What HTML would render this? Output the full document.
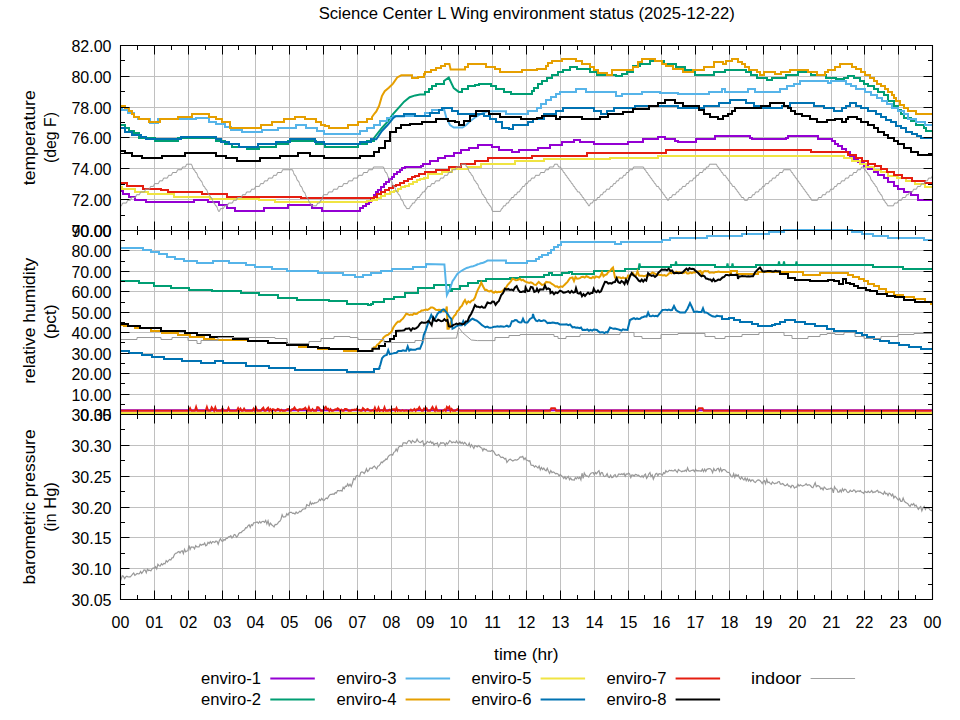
<!DOCTYPE html><html><head><meta charset="utf-8"><style>html,body{margin:0;padding:0;background:#fff;}svg{display:block;font-family:"Liberation Sans", sans-serif;}</style></head><body>
<svg width="960" height="720" viewBox="0 0 960 720">
<rect width="960" height="720" fill="#fff"/>
<path d="M120.5 76.50H932.5M120.5 107.50H932.5M120.5 137.50H932.5M120.5 168.50H932.5M120.5 199.50H932.5M120.5 250.50H932.5M120.5 271.50H932.5M120.5 291.50H932.5M120.5 312.50H932.5M120.5 332.50H932.5M120.5 353.50H932.5M120.5 373.50H932.5M120.5 394.50H932.5M120.5 445.50H932.5M120.5 476.50H932.5M120.5 507.50H932.5M120.5 537.50H932.5M120.5 568.50H932.5M154.50 45.5V599.5M188.50 45.5V599.5M222.50 45.5V599.5M255.50 45.5V599.5M289.50 45.5V599.5M323.50 45.5V599.5M357.50 45.5V599.5M391.50 45.5V599.5M425.50 45.5V599.5M458.50 45.5V599.5M492.50 45.5V599.5M526.50 45.5V599.5M560.50 45.5V599.5M594.50 45.5V599.5M628.50 45.5V599.5M661.50 45.5V599.5M695.50 45.5V599.5M729.50 45.5V599.5M763.50 45.5V599.5M797.50 45.5V599.5M831.50 45.5V599.5M864.50 45.5V599.5M898.50 45.5V599.5" stroke="#c0c0c0" stroke-width="1" fill="none"/>
<defs><clipPath id="cT"><rect x="120.5" y="44" width="812" height="188"/></clipPath><clipPath id="cH"><rect x="120.5" y="229" width="812" height="187"/></clipPath><clipPath id="cP"><rect x="120.5" y="413" width="812" height="188"/></clipPath></defs>
<g clip-path="url(#cT)" fill="none" stroke-width="2" stroke-linejoin="miter">
<path d="M120.00 191.00H123.00V194.00H129.00V197.00H135.00V200.00H146.00V202.00H194.00V200.00H208.00V202.00H219.00V205.00H220.00V205.00H227.00V208.00H235.00V211.00H264.00V208.00H288.00V205.00H312.00V208.00H322.00V211.00H360.00V208.00H363.00V206.00H366.00V204.00H369.00V202.00H371.00V199.00H374.00V195.00H376.00V192.00H378.00V190.00H381.00V187.00H384.00V184.00H386.00V182.00H389.00V179.00H392.00V177.00H394.00V174.00H397.00V172.00H400.00V170.00H402.00V168.00H405.00V167.00H421.00V166.00H423.00V164.00H430.00V161.00H438.00V158.00H445.00V156.00H454.00V153.00H461.00V150.00H469.00V148.00H478.00V145.00H492.00V147.00H499.00V150.00H512.00V152.00H519.00V150.00H538.00V148.00H550.00V145.00H562.00V142.00H574.00V140.00H580.00V142.00H594.00V144.00H628.00V142.00H643.00V139.00H658.00V137.00H665.00V139.00H675.00V141.00H678.00V142.00H696.00V139.00H715.00V136.00H729.00V136.00H750.00V138.00H752.00V139.00H786.00V138.00H788.00V136.00H818.00V139.00H832.00V141.00H835.00V144.00H838.00V146.00H842.00V149.00H846.00V152.00H850.00V156.00H854.00V159.00H858.00V162.00H864.00V166.00H868.00V169.00H874.00V172.00H878.00V175.00H884.00V178.00H888.00V182.00H894.00V186.00H898.00V189.00H904.00V192.00H911.00V195.00H918.00V200.00H932.50" stroke="#9400D3"/>
<path d="M120.00 125.00H125.00V128.00H129.00V131.00H134.00V133.00H139.00V138.00H155.00V141.00H178.00V138.00H216.00V141.00H225.00V144.00H232.00V147.00H247.00V149.00H259.00V147.00H276.00V144.00H288.00V141.00H316.00V144.00H325.00V147.00H358.00V144.00H367.00V141.00H374.00V138.00L376.30 135.00L381.90 128.00L387.40 121.80L393.00 114.20L398.60 107.90L404.10 101.70L409.70 97.20L415.20 95.40L420.00 94.50H425.00V92.00H429.00V89.00H432.00V86.00H436.00V84.00H444.00V81.00L448.75 77.50L453.75 88.10L458.75 91.90H462.00V89.00H468.00V86.00H475.00V85.00H479.00V84.00H491.00V86.00H496.00V89.00H504.00V92.00H511.00V94.00H532.00V91.00H534.00V88.00H538.00V84.00H542.00V81.00H547.00V78.00H552.00V75.00H558.00V72.00H563.00V70.00H570.00V67.00H577.00V69.00H590.00V72.00H597.00V75.00H616.00V76.00H622.00V74.00H627.00V71.00H628.00V72.00H633.00V66.00H640.00V64.00H650.00V61.00H664.00V64.00H676.00V67.00H685.00V70.00H695.00V75.00H714.00V72.00H725.00V70.00H746.00V72.00H751.00V75.00H757.00V78.00H767.00V80.00H772.00V78.00H786.00V75.00H798.00V72.00H811.00V75.00H826.00V78.00H836.00V79.00H844.00V78.00H848.00V76.00H854.00V78.00H860.00V81.00H864.00V84.00H868.00V86.00H874.00V89.00H878.00V92.00H884.00V95.00H888.00V101.00H894.00V106.00H898.00V110.00H901.00V114.00H904.00V118.00H911.00V121.00H916.00V125.00H924.00V128.00H926.00V131.00H932.50" stroke="#009E73"/>
<path d="M120.00 108.00H122.00V110.00H128.00V113.00H134.00V117.00H138.00V119.00H150.00V123.00H158.00V119.00H178.00V119.00H196.00V118.00H209.00V122.00H216.00V124.00H225.00V127.00H231.00V130.00H242.00V132.00H262.00V130.00H278.00V128.00H296.00V125.00H306.00V128.00H317.00V131.00H324.00V134.00H360.00V131.00H367.00V128.00H374.00V125.00H380.00V121.00H387.00V118.00H393.00V116.00H420.00V116.00H425.00V113.00H432.00V110.00H444.00V109.00L446.25 117.50L450.00 125.00L453.75 127.50L462.50 127.50L466.25 125.00L470.00 121.25L475.00 117.50L480.00 114.40L487.50 111.25H506.00V114.00H528.00V111.00H537.00V108.00H541.00V104.00H546.00V100.00H551.00V97.00H556.00V94.00H560.00V92.00H576.00V89.00H586.00V92.00H616.00V96.00H622.00V94.00H642.00V92.00H660.00V93.00H678.00V94.00H709.00V92.00H722.00V89.00H725.00V92.00H748.00V89.00H755.00V92.00H780.00V89.00H787.00V86.00H794.00V84.00H800.00V81.00H828.00V83.00H831.00V81.00H846.00V84.00H851.00V86.00H856.00V89.00H865.00V92.00H871.00V95.00H877.00V98.00H882.00V101.00H887.00V104.00H892.00V108.00H898.00V111.00H904.00V114.00H908.00V119.00H916.00V122.00H925.00V125.00H932.50" stroke="#56B4E9"/>
<path d="M120.00 106.00H125.00V108.00H129.00V111.00H132.00V114.00H134.00V117.00H139.00V119.00H149.00V122.00H160.00V119.00H178.00V117.00H192.00V114.00H209.00V117.00H216.00V119.00H222.00V122.00H230.00V128.00H261.00V125.00H272.00V122.00H284.00V119.00H295.00V117.00H305.00V119.00H316.00V122.00H321.00V125.00H325.00V126.00H329.00V128.00H348.00V125.00H358.00V122.00H367.00V119.00H372.00V117.00L374.50 113.50L376.30 111.40L379.10 105.80L381.90 96.10L384.70 91.25L388.80 87.80L393.00 83.60L397.20 77.40L401.30 75.30H412.00V78.00H418.00V77.00H424.00V74.00H425.00V72.00H431.00V70.00H436.00V68.00H441.00V66.00H445.00V64.00L449.40 64.00L450.60 69.40H465.00V67.00H468.00V64.00H486.00V67.00H495.00V69.00H500.00V72.00H522.00V70.00H537.00V69.00H546.00V66.00H548.00V63.00H552.00V61.00H562.00V59.00H576.00V61.00H582.00V64.00H590.00V67.00H594.00V70.00H598.00V73.00H607.00V75.00H612.00V70.00H633.00V67.00H638.00V62.00H642.00V59.00H655.00V61.00H662.00V64.00H666.00V66.00H673.00V69.00H683.00V72.00H693.00V70.00H704.00V67.00H714.00V62.00H723.00V64.00H726.00V61.00H732.00V59.00H738.00V62.00H742.00V64.00H745.00V67.00H749.00V70.00H757.00V72.00H760.00V75.00H764.00V72.00H775.00V74.00H781.00V72.00H790.00V70.00H808.00V72.00H817.00V75.00H825.00V72.00H828.00V70.00H835.00V67.00H840.00V64.00H852.00V67.00H856.00V69.00H861.00V72.00H865.00V75.00H870.00V78.00H874.00V81.00H877.00V84.00H881.00V86.00H885.00V89.00H888.00V92.00H892.00V95.00H894.00V98.00H896.00V101.00H900.00V105.00H904.00V108.00H908.00V111.00H916.00V114.00H932.50" stroke="#E69F00"/>
<path d="M120.00 187.00H122.00V189.00H135.00V192.00H148.00V194.00H174.00V197.00H210.00V199.00H259.00V200.00H275.00V202.00H318.00V202.00H367.00V201.00H372.00V200.00H377.00V198.00H381.00V196.00H385.00V194.00H390.00V192.00H394.00V191.00H398.00V189.00H401.00V187.00H405.00V186.00H409.00V184.00H413.00V182.00H417.00V180.00H420.00V179.00H424.00V178.00H428.00V174.00H442.00V172.00H452.00V169.00H468.00V167.00H481.00V164.00H515.00V161.00H544.00V159.00H610.00V158.00H658.00V156.00H844.00V158.00H852.00V161.00H860.00V164.00H866.00V167.00H874.00V170.00H881.00V172.00H888.00V176.00H897.00V178.00H906.00V181.00H915.00V184.00H925.00V187.00H932.50" stroke="#F0E442"/>
<path d="M120.00 128.00H125.00V132.00H132.00V135.00H141.00V137.00H146.00V139.00H181.00V137.00H216.00V139.00H221.00V142.00H229.00V144.00H239.00V147.00H258.00V144.00H276.00V142.00H290.00V139.00H315.00V142.00H324.00V144.00H360.00V142.00H371.00V139.00L376.30 139.20L381.90 131.00L387.40 125.30L393.00 118.30L395.80 116.25H404.00V114.00H415.00V116.00H430.00V113.00H439.00V110.00H442.00V108.00H452.00V111.00H458.00V114.00H484.00V116.00H490.00V119.00H496.00V122.00H502.00V128.00H509.00V129.00H513.00V125.00H522.00V125.00H528.00V122.00H533.00V119.00H544.00V114.00H556.00V111.00H563.00V108.00H594.00V111.00H601.00V114.00H607.00V111.00H614.00V108.00H635.00V106.00H658.00V106.00H678.00V108.00H704.00V106.00H719.00V103.00H730.00V100.00H746.00V103.00H754.00V106.00H762.00V108.00H782.00V106.00H790.00V103.00H814.00V106.00H824.00V108.00H834.00V111.00H842.00V108.00H846.00V106.00H850.00V103.00H856.00V106.00H861.00V108.00H868.00V111.00H876.00V114.00H881.00V117.00H886.00V120.00H891.00V122.00H896.00V126.00H901.00V128.00H906.00V132.00H912.00V134.00H917.00V136.00H921.00V138.00H932.50" stroke="#0072B2"/>
<path d="M120.00 183.00H127.00V186.00H143.00V189.00H161.00V190.00H168.00V192.00H202.00V194.00H227.00V197.00H233.00V197.00H301.00V198.00H374.00V197.00H377.00V194.00H381.00V192.00H385.00V190.00H389.00V188.00H393.00V186.00H396.00V185.00H400.00V183.00H404.00V181.00H408.00V179.00H412.00V177.00H415.00V176.00H419.00V174.00H425.00V172.00H436.00V170.00H449.00V167.00H461.00V164.00H475.00V161.00H488.00V158.00H532.00V156.00H587.00V153.00H628.00V153.00H666.00V150.00H811.00V152.00H848.00V155.00H856.00V158.00H862.00V161.00H868.00V164.00H875.00V166.00H881.00V169.00H887.00V172.00H894.00V175.00H902.00V178.00H912.00V181.00H925.00V183.00H932.50" stroke="#E51E10"/>
<path d="M120.00 151.00H125.00V153.00H132.00V156.00H142.00V158.00H162.00V156.00H185.00V153.00H216.00V156.00H226.00V158.00H237.00V161.00H260.00V158.00H280.00V156.00H298.00V153.00H310.00V156.00H324.00V158.00H360.00V156.00H374.00V152.00H379.00V148.00H385.00V141.00H390.00V132.00H396.00V128.00H401.00V125.00H410.00V124.00H422.00V122.00H436.00V119.00H448.00V121.00H455.00V122.00H459.00V125.00H464.00V121.00H470.00V116.00H476.00V111.00H489.00V114.00H500.00V117.00H521.00V119.00H537.00V118.00H542.00V116.00H556.00V119.00H560.00V117.00H582.00V119.00H600.00V117.00H608.00V114.00H623.00V112.00H633.00V109.00H649.00V106.00H658.00V103.00H665.00V100.00H675.00V103.00H683.00V106.00H699.00V110.00H704.00V114.00H710.00V117.00H718.00V119.00H723.00V116.00H728.00V114.00H732.00V111.00H735.00V108.00H761.00V106.00H770.00V103.00H784.00V106.00H788.00V108.00H791.00V111.00H795.00V114.00H802.00V116.00H810.00V119.00H817.00V122.00H827.00V120.00H835.00V119.00H842.00V122.00H846.00V119.00H848.00V117.00H857.00V119.00H861.00V122.00H868.00V125.00H874.00V128.00H878.00V132.00H884.00V135.00H888.00V138.00H894.00V141.00H898.00V144.00H904.00V148.00H911.00V152.00H918.00V155.00H932.50" stroke="#000000"/>
<path d="M120.50 205.84L121.50 205.84L122.50 203.06L126.50 203.06L127.50 200.28L130.50 200.28L131.50 197.51L135.50 197.51L136.50 194.74L139.50 194.74L140.50 191.96L144.50 191.96L145.50 189.19L149.50 189.19L150.50 186.41L153.50 186.41L154.50 183.64L158.50 183.64L159.50 180.86L162.50 180.86L163.50 178.09L167.50 178.09L168.50 175.31L171.50 175.31L172.50 172.53L176.50 172.53L177.50 169.76L181.50 169.76L182.50 166.99L185.50 166.99L186.50 164.21L191.50 164.21L192.50 166.99L193.50 169.76L194.50 169.76L195.50 172.53L196.50 172.53L197.50 175.31L198.50 178.09L199.50 178.09L200.50 180.86L201.50 180.86L202.50 183.64L203.50 186.41L204.50 186.41L205.50 189.19L206.50 189.19L207.50 191.96L208.50 194.74L209.50 194.74L210.50 197.51L211.50 197.51L212.50 200.28L213.50 203.06L214.50 203.06L215.50 205.84L216.50 205.84L217.50 208.61L218.50 211.38L219.50 211.38L220.50 208.61L223.50 208.61L224.50 205.84L227.50 205.84L228.50 203.06L232.50 203.06L233.50 200.28L236.50 200.28L237.50 197.51L241.50 197.51L242.50 194.74L245.50 194.74L246.50 191.96L250.50 191.96L251.50 189.19L254.50 189.19L255.50 186.41L259.50 186.41L260.50 183.64L263.50 183.64L264.50 180.86L267.50 180.86L268.50 178.09L272.50 178.09L273.50 175.31L276.50 175.31L277.50 172.53L281.50 172.53L282.50 169.76L292.50 169.76L293.50 172.53L294.50 175.31L295.50 175.31L296.50 178.09L297.50 180.86L298.50 180.86L299.50 183.64L300.50 186.41L301.50 186.41L302.50 189.19L303.50 191.96L304.50 191.96L305.50 194.74L306.50 197.51L307.50 197.51L308.50 200.28L309.50 203.06L310.50 203.06L311.50 205.84L316.50 205.84L317.50 203.06L319.50 203.06L320.50 200.28L321.50 200.28L322.50 197.51L323.50 194.74L327.50 194.74L328.50 191.96L332.50 191.96L333.50 189.19L337.50 189.19L338.50 186.41L342.50 186.41L343.50 183.64L347.50 183.64L348.50 180.86L352.50 180.86L353.50 178.09L357.50 178.09L358.50 175.31L362.50 175.31L363.50 172.53L367.50 172.53L368.50 169.76L372.50 169.76L373.50 166.99L383.50 166.99L384.50 169.76L385.50 172.53L386.50 172.53L387.50 175.31L388.50 178.09L389.50 178.09L390.50 180.86L391.50 180.86L392.50 183.64L393.50 186.41L394.50 186.41L395.50 189.19L396.50 191.96L397.50 191.96L398.50 194.74L399.50 194.74L400.50 197.51L401.50 200.28L402.50 200.28L403.50 203.06L404.50 205.84L405.50 205.84L406.50 208.61L409.50 208.61L410.50 205.84L411.50 205.84L412.50 203.06L414.50 203.06L415.50 200.28L416.50 200.28L417.50 197.51L419.50 197.51L420.50 194.74L421.50 194.74L422.50 191.96L424.50 191.96L425.50 189.19L426.50 189.19L427.50 186.41L430.50 186.41L431.50 183.64L434.50 183.64L435.50 180.86L439.50 180.86L440.50 178.09L443.50 178.09L444.50 175.31L447.50 175.31L448.50 172.53L451.50 172.53L452.50 169.76L455.50 169.76L456.50 166.99L460.50 166.99L461.50 164.21L465.50 164.21L466.50 166.99L467.50 166.99L468.50 169.76L469.50 172.53L470.50 172.53L471.50 175.31L472.50 175.31L473.50 178.09L474.50 180.86L475.50 180.86L476.50 183.64L477.50 183.64L478.50 186.41L479.50 189.19L480.50 189.19L481.50 191.96L482.50 194.74L483.50 194.74L484.50 197.51L485.50 197.51L486.50 200.28L487.50 203.06L488.50 203.06L489.50 205.84L490.50 205.84L491.50 208.61L492.50 211.38L500.50 211.38L501.50 208.61L502.50 208.61L503.50 205.84L505.50 205.84L506.50 203.06L508.50 203.06L509.50 200.28L510.50 200.28L511.50 197.51L513.50 197.51L514.50 194.74L516.50 194.74L517.50 191.96L519.50 191.96L520.50 189.19L521.50 189.19L522.50 186.41L524.50 186.41L525.50 183.64L527.50 183.64L528.50 180.86L530.50 180.86L531.50 178.09L534.50 178.09L535.50 175.31L539.50 175.31L540.50 172.53L544.50 172.53L545.50 169.76L548.50 169.76L549.50 166.99L553.50 166.99L554.50 164.21L557.50 164.21L558.50 166.99L560.50 166.99L561.50 169.76L562.50 169.76L563.50 172.53L564.50 172.53L565.50 175.31L566.50 175.31L567.50 178.09L568.50 178.09L569.50 180.86L570.50 180.86L571.50 183.64L572.50 183.64L573.50 186.41L574.50 186.41L575.50 189.19L576.50 189.19L577.50 191.96L579.50 191.96L580.50 194.74L581.50 194.74L582.50 197.51L583.50 197.51L584.50 200.28L585.50 200.28L586.50 203.06L587.50 203.06L588.50 205.84L589.50 205.84L590.50 203.06L592.50 203.06L593.50 200.28L596.50 200.28L597.50 197.51L599.50 197.51L600.50 194.74L602.50 194.74L603.50 191.96L605.50 191.96L606.50 189.19L609.50 189.19L610.50 186.41L612.50 186.41L613.50 183.64L615.50 183.64L616.50 180.86L618.50 180.86L619.50 178.09L622.50 178.09L623.50 175.31L625.50 175.31L626.50 172.53L628.50 172.53L629.50 169.76L632.50 169.76L633.50 166.99L643.50 166.99L644.50 169.76L645.50 169.76L646.50 172.53L647.50 172.53L648.50 175.31L649.50 175.31L650.50 178.09L651.50 178.09L652.50 180.86L653.50 180.86L654.50 183.64L655.50 183.64L656.50 186.41L658.50 186.41L659.50 189.19L660.50 189.19L661.50 191.96L662.50 191.96L663.50 194.74L664.50 194.74L665.50 197.51L666.50 197.51L667.50 200.28L668.50 200.28L669.50 197.51L671.50 197.51L672.50 194.74L675.50 194.74L676.50 191.96L678.50 191.96L679.50 189.19L681.50 189.19L682.50 186.41L685.50 186.41L686.50 183.64L688.50 183.64L689.50 180.86L692.50 180.86L693.50 178.09L695.50 178.09L696.50 175.31L698.50 175.31L699.50 172.53L702.50 172.53L703.50 169.76L705.50 169.76L706.50 166.99L708.50 166.99L709.50 164.21L716.50 164.21L717.50 166.99L718.50 166.99L719.50 169.76L720.50 169.76L721.50 172.53L722.50 172.53L723.50 175.31L725.50 175.31L726.50 178.09L727.50 178.09L728.50 180.86L729.50 180.86L730.50 183.64L731.50 183.64L732.50 186.41L734.50 186.41L735.50 189.19L736.50 189.19L737.50 191.96L738.50 191.96L739.50 194.74L740.50 194.74L741.50 197.51L743.50 197.51L744.50 200.28L747.50 200.28L748.50 197.51L751.50 197.51L752.50 194.74L754.50 194.74L755.50 191.96L758.50 191.96L759.50 189.19L761.50 189.19L762.50 186.41L764.50 186.41L765.50 183.64L768.50 183.64L769.50 180.86L771.50 180.86L772.50 178.09L775.50 178.09L776.50 175.31L778.50 175.31L779.50 172.53L782.50 172.53L783.50 169.76L790.50 169.76L791.50 172.53L792.50 172.53L793.50 175.31L794.50 175.31L795.50 178.09L796.50 178.09L797.50 180.86L798.50 180.86L799.50 183.64L800.50 183.64L801.50 186.41L802.50 186.41L803.50 189.19L804.50 189.19L805.50 191.96L806.50 191.96L807.50 194.74L808.50 194.74L809.50 197.51L810.50 197.51L811.50 200.28L817.50 200.28L818.50 197.51L821.50 197.51L822.50 194.74L825.50 194.74L826.50 191.96L829.50 191.96L830.50 189.19L833.50 189.19L834.50 186.41L836.50 186.41L837.50 183.64L840.50 183.64L841.50 180.86L844.50 180.86L845.50 178.09L848.50 178.09L849.50 175.31L852.50 175.31L853.50 172.53L856.50 172.53L857.50 169.76L860.50 169.76L861.50 166.99L863.50 166.99L864.50 169.76L865.50 169.76L866.50 172.53L867.50 172.53L868.50 175.31L869.50 175.31L870.50 178.09L871.50 180.86L872.50 180.86L873.50 183.64L874.50 183.64L875.50 186.41L876.50 186.41L877.50 189.19L878.50 191.96L879.50 191.96L880.50 194.74L881.50 194.74L882.50 197.51L883.50 200.28L884.50 200.28L885.50 203.06L886.50 203.06L887.50 205.84L893.50 205.84L894.50 203.06L897.50 203.06L898.50 200.28L901.50 200.28L902.50 197.51L905.50 197.51L906.50 194.74L908.50 194.74L909.50 191.96L912.50 191.96L913.50 189.19L916.50 189.19L917.50 186.41L920.50 186.41L921.50 183.64L924.50 183.64L925.50 180.86L927.50 180.86L928.50 178.09L931.50 178.09L932.50 175.31" stroke="#9a9a9a" stroke-width="1"/>
</g>
<g clip-path="url(#cH)" fill="none" stroke-width="2">
<path d="M120.5 410.2H932.5" stroke="#9400D3"/>
<path d="M121.00 281.00H139.00V283.00H154.00V286.00H171.00V288.00H189.00V290.00H212.00V291.00H241.00V293.00H259.00V295.00H278.00V298.00H297.00V300.00H329.00V301.00H347.00V304.00H368.00V305.00H371.00V304.00H373.00V302.00H384.00V299.00H394.00V297.00H405.00V293.00H418.00V288.00H434.00V285.00H450.00V291.00H452.00V289.00H460.00V286.00H468.00V283.00H478.00V281.00H486.00V279.00H510.00V278.00H520.00V277.00H544.00V275.00H549.00V273.00H552.00V275.00H562.00V273.00H569.00V272.00H572.00V274.00H594.00V271.00H620.00V271.00H625.00V269.00H639.00V267.00L638.90 267.00L639.50 263.50L640.10 267.00H671.00V265.00L675.40 265.00L676.00 261.50L676.60 265.00H715.00V267.00L726.90 267.00L727.50 263.50L728.10 267.00L731.90 267.00L732.50 263.50L733.10 267.00H756.00V265.00L778.40 265.00L779.00 261.50L779.60 265.00L783.40 265.00L784.00 261.50L784.60 265.00L795.90 265.00L796.50 261.50L797.10 265.00H873.00V267.00H903.00V269.00H932.50" stroke="#009E73"/>
<path d="M121.00 248.00H143.00V250.00H151.00V252.00H159.00V254.00H167.00V257.00H175.00V259.00H184.00V261.00H197.00V263.00H213.00V261.00H229.00V263.00H246.00V265.00H255.00V267.00H272.00V269.00H287.00V271.00H318.00V273.00H343.00V275.00H355.00V277.00H363.00V275.00H371.00V273.00H381.00V271.00H392.00V269.00H413.00V267.00H426.00V264.00L444.40 264.40L446.90 295.00L448.45 291.77L450.00 288.75L452.50 281.25L454.17 278.84L455.83 276.27L457.50 273.75L459.00 272.48L460.50 271.47L462.00 270.49L463.50 269.70L465.00 268.75L466.67 267.91L468.33 267.59L470.00 266.90L471.56 266.47L473.12 266.24L474.69 265.69L476.25 265.00L477.75 264.29L479.25 263.89L480.75 263.31L482.25 263.08L483.75 262.50L485.62 261.58L487.50 260.60H506.00V263.00H527.00V261.00H536.00V259.00H539.00V257.00H542.00V255.00H548.00V253.00H551.00V250.00H554.00V247.00H558.00V245.00H561.00V242.00H578.00V242.00H615.00V244.00H621.00V242.00H662.00V240.00H670.00V238.00H707.00V236.00H742.00V234.00H769.00V232.00H784.00V230.00H852.00V232.00H862.00V234.00H873.00V236.00H888.00V238.00H924.00V240.00H932.50" stroke="#56B4E9"/>
<path d="M121.00 325.00H124.00V326.00H135.00V328.00H151.00V331.00H162.00V333.00H178.00V335.00H190.00V337.00H204.00V339.00H214.00V340.00H248.00V341.00H268.00V343.00H287.00V345.00H299.00V347.00H318.00V349.00H344.00V351.00H372.00V350.00L372.50 349.50L374.06 347.18L375.62 346.99L377.19 344.82L378.75 343.75L380.31 341.78L381.88 340.59L383.44 337.61L385.00 336.25L386.67 335.25L388.33 334.61L390.00 333.10L391.67 331.36L393.33 327.54L395.00 325.00L396.56 323.05L398.12 321.58L399.69 321.78L401.25 320.00L402.92 318.67L404.58 316.22L406.25 313.75L407.81 314.22L409.38 315.05L410.94 314.64L412.50 315.00L414.00 313.50L415.50 314.05L417.00 313.78L418.50 312.29L420.00 311.90L421.50 310.57L423.00 310.48L424.50 309.88L426.00 309.64L427.50 310.00L429.17 308.95L430.83 307.49L432.50 307.50L434.17 308.43L435.83 309.81L437.50 310.00L439.00 309.72L440.50 310.05L442.00 310.50L444.00 311.17L446.00 310.00L446.80 306.50L447.50 328.75L448.75 328.75L450.62 323.10L452.50 318.75L454.06 316.03L455.62 314.55L457.19 311.20L458.75 310.00L460.31 307.24L461.88 305.91L463.44 302.53L465.00 300.00L466.67 303.63L468.33 301.45L470.00 302.50L471.67 300.63L473.33 300.14L475.00 297.50L476.56 292.97L478.12 289.20L479.69 286.32L481.25 282.50L483.12 286.48L485.00 290.00L486.50 289.80L488.00 291.03L489.50 291.34L491.00 290.75L492.50 291.90L494.00 292.86L495.50 291.52L497.00 292.40L498.50 291.86L500.00 291.90L502.50 291.25L504.17 289.20L505.83 287.99L507.50 285.00L509.17 283.30L510.83 281.35L512.50 278.75L514.17 279.45L515.83 280.27L517.50 280.00L520.00 278.75L521.50 280.35L523.00 279.77L524.50 281.12L526.00 281.90L527.62 282.43L529.25 283.02L530.88 282.28L532.50 283.10L534.25 284.66L536.00 285.00L538.75 281.90L540.38 283.44L542.00 285.00L544.12 284.43L546.25 281.90L548.12 282.14L550.00 282.50L551.88 283.96L553.75 285.00L555.42 286.45L557.08 286.37L558.75 287.50L560.62 286.36L562.50 286.90L564.17 285.17L565.83 283.53L567.50 281.90L570.00 278.10L572.50 277.50L574.00 280.99L575.50 276.91L577.00 278.68L578.50 278.48L580.00 278.10L581.56 276.99L583.12 276.84L584.69 277.66L586.25 276.25L588.12 276.98L590.00 278.10L591.50 278.31L593.00 276.87L594.50 278.19L596.00 276.43L597.50 276.90L599.00 277.48L600.50 275.84L602.00 272.35L603.50 276.25L605.00 275.00L606.67 274.49L608.33 271.92L610.00 271.25L611.50 268.96L613.00 267.50L615.00 277.50L616.67 277.67L618.33 277.34L620.00 277.50L621.50 278.32L623.00 277.42L624.50 278.31L626.00 278.34L627.50 277.50L628.00 275.60L629.60 275.66L631.20 274.64L632.80 272.91L634.40 275.55L636.00 275.60L637.50 271.25L639.00 275.60L640.62 275.71L642.25 275.64L643.88 276.17L645.50 275.72L647.12 275.15L648.75 275.60L650.62 274.07L652.50 272.50L655.00 273.75L656.67 274.69L658.33 274.47L660.00 275.00L661.50 275.01L663.00 275.39L664.50 275.07L666.00 275.88L667.50 275.00L670.00 272.50L671.56 273.25L673.12 272.02L674.69 273.39L676.25 271.77L677.81 272.38L679.38 271.98L680.94 272.84L682.50 273.29L684.06 272.93L685.62 271.79L687.19 273.44L688.75 273.41L690.31 272.47L691.88 273.16L693.44 272.36L695.00 272.50L696.00 271.90L697.50 271.58L699.00 271.54L700.50 270.94L702.00 274.44L703.50 271.49L705.00 271.13L706.50 271.36L708.00 271.07L709.50 272.71L711.00 272.41L712.50 272.60L714.00 272.79L715.50 271.97L717.00 271.89L718.50 271.46L720.00 271.90H730.00V274.00H731.00V271.00H737.00V274.00H758.00V272.00H803.00V275.00H820.00V273.00H848.00V275.00H853.00V277.00H859.00V279.00H864.00V281.00H868.00V284.00H874.00V286.00H879.00V289.00H886.00V292.00H894.00V295.00H903.00V297.00H914.00V299.00H925.00V302.00H931.00V304.00H932.50" stroke="#E69F00"/>
<path d="M120.5 412.9H932.5" stroke="#F0E442"/>
<path d="M121.00 351.00H129.00V353.00H142.00V355.00H152.00V357.00H164.00V359.00H182.00V361.00H201.00V363.00H215.00V361.00H223.00V363.00H246.00V366.00H269.00V368.00H295.00V370.00H318.00V370.00H347.00V372.00H374.00V369.00H379.00V369.00L378.75 369.40L380.42 364.57L382.08 358.13L383.75 356.25L385.25 355.41L386.75 354.86L388.25 350.23L389.75 354.13L391.25 353.75L393.00 353.37L394.75 352.94L396.50 352.76L398.25 351.10L400.00 351.00L401.54 351.01L403.08 350.24L404.62 350.72L406.15 350.73L407.69 346.48L409.23 350.63L410.77 349.43L412.31 349.84L413.85 349.66L415.38 349.81L416.92 348.83L418.46 348.54L420.00 348.75L422.50 342.50L423.75 335.00L425.62 330.53L427.50 325.00L429.38 319.50L431.25 315.00L433.75 320.00L435.62 317.55L437.50 313.75L439.06 311.98L440.62 312.11L442.19 309.87L443.75 309.40L445.62 311.41L447.50 313.75L449.38 316.91L451.25 318.75L452.50 328.75L454.38 327.77L456.25 326.25L458.00 325.56L459.75 325.06L461.50 325.26L463.25 321.24L465.00 325.00L466.50 323.36L468.00 322.27L469.50 320.94L471.00 319.65L472.50 318.75L475.00 320.00L476.75 320.68L478.50 322.00L480.25 323.60L482.00 325.18L483.75 326.25L485.42 327.31L487.08 326.60L488.75 327.50L490.50 327.65L492.25 327.37L494.00 326.74L495.75 326.67L497.50 326.25L499.06 326.70L500.62 326.27L502.19 326.53L503.75 326.82L505.31 326.35L506.88 325.57L508.44 326.67L510.00 326.25L511.90 321.25L513.45 321.26L515.00 320.00L516.67 320.25L518.33 321.86L520.00 322.50L521.50 322.33L523.00 318.81L524.50 322.14L526.00 322.44L527.50 322.50L530.00 319.00L532.50 317.50L533.00 314.00L534.00 317.50L536.00 320.60L537.50 321.21L539.00 320.03L540.50 320.94L542.00 321.03L543.50 320.23L545.00 320.60L547.50 323.10L549.17 322.72L550.83 323.04L552.50 322.51L554.17 322.80L555.83 323.29L557.50 323.10L560.00 324.40L561.67 324.54L563.33 324.61L565.00 324.57L566.67 324.38L568.33 325.06L570.00 324.40L572.50 327.50L574.20 327.10L575.90 327.79L577.60 327.45L579.30 328.19L581.00 327.50L582.50 330.00L584.11 329.74L585.72 329.96L587.33 329.41L588.94 330.69L590.56 329.84L592.17 330.60L593.78 329.43L595.39 329.67L597.00 330.00L598.50 331.39L600.00 332.50L601.50 332.19L603.00 332.31L604.50 333.03L606.00 332.02L607.50 332.50L610.00 327.50L611.67 328.17L613.33 328.65L615.00 328.58L616.67 328.93L618.33 329.36L620.00 330.00L621.50 330.62L623.00 329.32L624.50 329.65L626.00 329.85L627.50 330.00L630.00 320.00L632.50 318.75L634.00 318.16L635.50 319.11L637.00 318.44L638.50 318.98L640.00 318.75L641.67 317.43L643.33 316.99L645.00 316.25L646.56 316.63L648.12 312.63L649.69 316.11L651.25 316.33L652.81 315.66L654.38 316.13L655.94 315.74L657.50 316.25L659.17 314.15L660.83 312.15L662.50 310.00L664.08 309.88L665.67 309.66L667.25 310.21L668.83 309.63L670.42 310.24L672.00 310.00L674.00 306.00L676.00 310.00L678.00 311.45L680.00 312.50L681.67 312.50L683.33 312.57L685.00 312.50L687.50 308.75L690.00 303.10L692.00 307.27L694.00 311.90L695.50 311.80L697.00 311.54L698.50 311.98L700.00 311.90L701.50 311.96L703.00 308.22L704.50 312.46L706.00 312.45L707.50 313.10L709.17 314.50L710.83 315.30L712.50 316.25L714.00 316.51L715.50 316.66L717.00 315.68L718.50 316.09L720.00 316.25H722.00V319.00H729.00V318.00H734.00V320.00H740.00V322.00H752.00V324.00H758.00V326.00H772.00V325.00H775.00V324.00H780.00V322.00H785.00V320.00H795.00V322.00H805.00V324.00H815.00V326.00H827.00V329.00H834.00V331.00H856.00V333.00H862.00V335.00H867.00V337.00H874.00V339.00H880.00V341.00H889.00V343.00H899.00V345.00H909.00V347.00H921.00V349.00H932.50" stroke="#0072B2"/>
<path d="M120.50 410.80L121.70 410.80L122.90 410.80L124.10 410.80L125.30 410.80L126.50 410.80L127.70 410.80L128.90 410.80L130.10 410.80L131.30 410.80L132.50 410.80L133.70 410.80L134.90 410.80L136.10 410.80L137.30 410.80L138.50 410.80L139.70 410.80L140.90 410.80L142.10 410.80L143.30 410.80L144.50 410.80L145.70 410.80L146.90 410.80L148.10 410.80L149.30 410.80L150.50 410.80L151.70 410.80L152.90 410.80L154.10 410.80L155.30 410.80L156.50 410.80L157.70 410.80L158.90 410.80L160.10 410.80L161.30 410.80L162.50 410.80L163.70 410.80L164.90 410.80L166.10 410.80L167.30 410.80L168.50 410.80L169.70 410.80L170.90 410.80L172.10 410.80L173.30 410.80L174.50 410.80L175.70 410.80L176.90 410.80L178.10 410.80L179.30 410.80L180.50 410.80L181.70 410.80L182.90 410.80L184.10 410.80L185.30 410.80L186.50 410.80L187.70 410.80L188.90 410.80L190.10 408.24L191.30 410.80L192.50 410.80L193.70 410.80L194.90 410.80L196.10 406.97L197.30 410.80L198.50 410.80L199.70 410.80L200.90 410.80L202.10 410.80L203.30 410.80L204.50 410.80L205.70 410.80L206.90 407.24L208.10 410.80L209.30 410.80L210.50 410.80L211.70 407.36L212.90 408.99L214.10 410.80L215.30 407.51L216.50 410.80L217.70 410.80L218.90 410.80L220.10 410.80L221.30 410.80L222.50 408.55L223.70 410.80L224.90 410.80L226.10 410.80L227.30 410.80L228.50 407.96L229.70 410.80L230.90 410.80L232.10 410.80L233.30 410.80L234.50 410.80L235.70 410.80L236.90 410.80L238.10 408.27L239.30 410.80L240.50 408.81L241.70 410.80L242.90 410.80L244.10 408.73L245.30 410.80L246.50 410.80L247.70 410.80L248.90 410.80L250.10 410.80L251.30 410.80L252.50 410.80L253.70 408.57L254.90 410.80L256.10 408.06L257.30 410.80L258.50 410.80L259.70 410.80L260.90 410.80L262.10 408.97L263.30 407.74L264.50 410.80L265.70 410.80L266.90 408.93L268.10 407.81L269.30 410.80L270.50 409.24L271.70 410.80L272.90 409.24L274.10 409.63L275.30 410.80L276.50 410.13L277.70 408.89L278.90 409.32L280.10 410.80L281.30 409.83L282.50 410.80L283.70 410.80L284.90 410.80L286.10 410.14L287.30 409.10L288.50 408.97L289.70 410.80L290.90 410.80L292.10 409.15L293.30 409.09L294.50 407.54L295.70 409.49L296.90 409.82L298.10 410.80L299.30 409.35L300.50 409.36L301.70 409.74L302.90 409.09L304.10 408.81L305.30 407.79L306.50 409.80L307.70 410.80L308.90 407.43L310.10 410.80L311.30 410.80L312.50 409.22L313.70 410.80L314.90 410.80L316.10 410.80L317.30 407.23L318.50 407.51L319.70 409.14L320.90 410.80L322.10 410.80L323.30 410.80L324.50 408.06L325.70 406.97L326.90 409.26L328.10 408.71L329.30 410.80L330.50 409.12L331.70 410.80L332.90 410.80L334.10 410.06L335.30 409.33L336.50 409.48L337.70 408.23L338.90 409.12L340.10 410.80L341.30 409.67L342.50 410.80L343.70 410.80L344.90 408.97L346.10 408.96L347.30 409.49L348.50 410.80L349.70 410.80L350.90 410.80L352.10 409.88L353.30 409.92L354.50 409.64L355.70 409.95L356.90 408.94L358.10 410.20L359.30 409.93L360.50 410.80L361.70 410.80L362.90 408.14L364.10 409.29L365.30 410.80L366.50 409.63L367.70 408.98L368.90 410.22L370.10 410.80L371.30 410.80L372.50 410.19L373.70 410.80L374.90 407.79L376.10 410.80L377.30 410.80L378.50 407.71L379.70 410.80L380.90 410.24L382.10 410.23L383.30 410.80L384.50 407.47L385.70 410.80L386.90 410.80L388.10 410.80L389.30 409.74L390.50 410.80L391.70 409.22L392.90 409.57L394.10 409.11L395.30 410.80L396.50 407.97L397.70 410.80L398.90 409.89L400.10 410.80L401.30 410.80L402.50 410.22L403.70 410.80L404.90 410.80L406.10 410.27L407.30 410.80L408.50 410.80L409.70 410.80L410.90 409.69L412.10 410.80L413.30 410.07L414.50 409.07L415.70 410.80L416.90 409.14L418.10 409.17L419.30 407.28L420.50 409.44L421.70 410.80L422.90 410.80L424.10 408.43L425.30 408.87L426.50 408.34L427.70 410.80L428.90 410.80L430.10 410.80L431.30 409.04L432.50 407.02L433.70 409.39L434.90 410.80L436.10 407.52L437.30 410.80L438.50 410.80L439.70 410.80L440.90 410.80L442.10 410.80L443.30 410.80L444.50 409.59L445.70 410.80L446.90 406.95L448.10 408.40L449.30 406.87L450.50 410.80L451.70 408.97L452.90 410.80L454.10 410.80L455.30 410.80L456.50 409.72L457.70 409.03L458.90 410.80L460.10 410.80L461.30 410.80L462.50 410.80L463.70 410.80L464.90 410.80L466.10 410.80L467.30 410.80L468.50 410.80L469.70 410.80L470.90 410.80L472.10 410.80L473.30 410.80L474.50 410.80L475.70 410.80L476.90 410.80L478.10 410.80L479.30 410.80L480.50 410.80L481.70 410.80L482.90 410.80L484.10 410.80L485.30 410.80L486.50 410.80L487.70 410.80L488.90 410.80L490.10 410.80L491.30 410.80L492.50 410.80L493.70 410.80L494.90 410.80L496.10 410.80L497.30 410.80L498.50 410.80L499.70 410.80L500.90 410.80L502.10 410.80L503.30 410.80L504.50 410.80L505.70 410.80L506.90 410.80L508.10 410.80L509.30 410.80L510.50 410.80L511.70 410.80L512.90 410.80L514.10 410.80L515.30 410.80L516.50 410.80L517.70 410.80L518.90 410.80L520.10 410.80L521.30 410.80L522.50 410.80L523.70 410.80L524.90 410.80L526.10 410.80L527.30 410.80L528.50 410.80L529.70 410.80L530.90 410.80L532.10 410.80L533.30 410.80L534.50 410.80L535.70 410.80L536.90 410.80L538.10 410.80L539.30 410.80L540.50 410.80L541.70 410.80L542.90 410.80L544.10 410.80L545.30 410.80L546.50 410.80L547.70 410.80L548.90 410.80L550.10 410.80L551.30 408.30L552.50 408.30L553.70 408.30L554.90 408.30L556.10 410.80L557.30 410.80L558.50 410.80L559.70 410.80L560.90 410.80L562.10 410.80L563.30 410.80L564.50 410.80L565.70 410.80L566.90 410.80L568.10 410.80L569.30 410.80L570.50 410.80L571.70 410.80L572.90 410.80L574.10 410.80L575.30 410.80L576.50 410.80L577.70 410.80L578.90 410.80L580.10 410.80L581.30 410.80L582.50 410.80L583.70 410.80L584.90 410.80L586.10 410.80L587.30 410.80L588.50 410.80L589.70 410.80L590.90 410.80L592.10 410.80L593.30 410.80L594.50 410.80L595.70 410.80L596.90 410.80L598.10 410.80L599.30 410.80L600.50 410.80L601.70 410.80L602.90 410.80L604.10 410.80L605.30 410.80L606.50 410.80L607.70 410.80L608.90 410.80L610.10 410.80L611.30 410.80L612.50 410.80L613.70 410.80L614.90 410.80L616.10 410.80L617.30 410.80L618.50 410.80L619.70 410.80L620.90 410.80L622.10 410.80L623.30 410.80L624.50 410.80L625.70 410.80L626.90 410.80L628.10 410.80L629.30 410.80L630.50 410.80L631.70 410.80L632.90 410.80L634.10 410.80L635.30 410.80L636.50 410.80L637.70 410.80L638.90 410.80L640.10 410.80L641.30 410.80L642.50 410.80L643.70 410.80L644.90 410.80L646.10 410.80L647.30 410.80L648.50 410.80L649.70 410.80L650.90 410.80L652.10 410.80L653.30 410.80L654.50 410.80L655.70 410.80L656.90 410.80L658.10 410.80L659.30 410.80L660.50 410.80L661.70 410.80L662.90 410.80L664.10 410.80L665.30 410.80L666.50 410.80L667.70 410.80L668.90 410.80L670.10 410.80L671.30 410.80L672.50 410.80L673.70 410.80L674.90 410.80L676.10 410.80L677.30 410.80L678.50 410.80L679.70 410.80L680.90 410.80L682.10 410.80L683.30 410.80L684.50 410.80L685.70 410.80L686.90 410.80L688.10 410.80L689.30 410.80L690.50 410.80L691.70 410.80L692.90 410.80L694.10 410.80L695.30 410.80L696.50 410.80L697.70 410.80L698.90 408.30L700.10 408.30L701.30 408.30L702.50 408.30L703.70 410.80L704.90 410.80L706.10 410.80L707.30 410.80L708.50 410.80L709.70 410.80L710.90 410.80L712.10 410.80L713.30 410.80L714.50 410.80L715.70 410.80L716.90 410.80L718.10 410.80L719.30 410.80L720.50 410.80L721.70 410.80L722.90 410.80L724.10 410.80L725.30 410.80L726.50 410.80L727.70 410.80L728.90 410.80L730.10 410.80L731.30 410.80L732.50 410.80L733.70 410.80L734.90 410.80L736.10 410.80L737.30 410.80L738.50 410.80L739.70 410.80L740.90 410.80L742.10 410.80L743.30 410.80L744.50 410.80L745.70 410.80L746.90 410.80L748.10 410.80L749.30 410.80L750.50 410.80L751.70 410.80L752.90 410.80L754.10 410.80L755.30 410.80L756.50 410.80L757.70 410.80L758.90 410.80L760.10 410.80L761.30 410.80L762.50 410.80L763.70 410.80L764.90 410.80L766.10 410.80L767.30 410.80L768.50 410.80L769.70 410.80L770.90 410.80L772.10 410.80L773.30 410.80L774.50 410.80L775.70 410.80L776.90 410.80L778.10 410.80L779.30 410.80L780.50 410.80L781.70 410.80L782.90 410.80L784.10 410.80L785.30 410.80L786.50 410.80L787.70 410.80L788.90 410.80L790.10 410.80L791.30 410.80L792.50 410.80L793.70 410.80L794.90 410.80L796.10 410.80L797.30 410.80L798.50 410.80L799.70 410.80L800.90 410.80L802.10 410.80L803.30 410.80L804.50 410.80L805.70 410.80L806.90 410.80L808.10 410.80L809.30 410.80L810.50 410.80L811.70 410.80L812.90 410.80L814.10 410.80L815.30 410.80L816.50 410.80L817.70 410.80L818.90 410.80L820.10 410.80L821.30 410.80L822.50 410.80L823.70 410.80L824.90 410.80L826.10 410.80L827.30 410.80L828.50 410.80L829.70 410.80L830.90 410.80L832.10 410.80L833.30 410.80L834.50 410.80L835.70 410.80L836.90 410.80L838.10 410.80L839.30 410.80L840.50 410.80L841.70 410.80L842.90 410.80L844.10 410.80L845.30 410.80L846.50 410.80L847.70 410.80L848.90 410.80L850.10 410.80L851.30 410.80L852.50 410.80L853.70 410.80L854.90 410.80L856.10 410.80L857.30 410.80L858.50 410.80L859.70 410.80L860.90 410.80L862.10 410.80L863.30 410.80L864.50 410.80L865.70 410.80L866.90 410.80L868.10 410.80L869.30 410.80L870.50 410.80L871.70 410.80L872.90 410.80L874.10 410.80L875.30 410.80L876.50 410.80L877.70 410.80L878.90 410.80L880.10 410.80L881.30 410.80L882.50 410.80L883.70 410.80L884.90 410.80L886.10 410.80L887.30 410.80L888.50 410.80L889.70 410.80L890.90 410.80L892.10 410.80L893.30 410.80L894.50 410.80L895.70 410.80L896.90 410.80L898.10 410.80L899.30 410.80L900.50 410.80L901.70 410.80L902.90 410.80L904.10 410.80L905.30 410.80L906.50 410.80L907.70 410.80L908.90 410.80L910.10 410.80L911.30 410.80L912.50 410.80L913.70 410.80L914.90 410.80L916.10 410.80L917.30 410.80L918.50 410.80L919.70 410.80L920.90 410.80L922.10 410.80L923.30 410.80L924.50 410.80L925.70 410.80L926.90 410.80L928.10 410.80L929.30 410.80L930.50 410.80L931.70 410.80" stroke="#E51E10"/>
<path d="M121.00 324.00H128.00V326.00H140.00V328.00H161.00V331.00H185.00V333.00H197.00V335.00H210.00V337.00H233.00V339.00H248.00V341.00H268.00V343.00H287.00V345.00H308.00V347.00H318.00V348.00H329.00V349.00H358.00V351.00H372.00V351.00L372.50 351.00L372.50 348.75H379.00V346.00H385.00V342.00H390.00V339.00H394.00V336.00H396.00V331.00L402.50 330.60L404.17 330.34L405.83 328.76L407.50 328.75L409.25 328.30L411.00 330.65L412.75 328.23L414.50 329.00L416.25 328.10L418.12 326.67L420.00 323.75L421.67 322.38L423.33 322.76L425.00 322.75L426.67 322.40L428.33 320.93L430.00 322.69L431.67 325.15L433.33 317.65L435.00 320.60L436.56 321.08L438.12 319.71L439.69 320.36L441.25 321.30L442.81 320.92L444.38 319.11L445.94 320.69L447.50 320.00L448.75 326.25L450.31 326.74L451.88 326.08L453.44 324.87L455.00 324.40L456.50 323.70L458.00 324.41L459.50 323.29L461.00 323.59L462.50 324.40L464.17 323.78L465.83 321.50L467.50 321.25L469.38 316.58L471.25 313.75L473.12 309.70L475.00 305.00L476.67 306.73L478.33 306.86L480.00 307.50L481.67 306.55L483.33 307.81L485.00 307.50L487.50 302.50L489.11 303.04L490.71 303.32L492.32 301.63L493.93 301.65L495.54 304.81L497.14 302.55L498.75 301.25L501.25 295.00L503.12 292.90L505.00 288.75L506.67 289.73L508.33 288.92L510.00 290.00L511.67 289.47L513.33 290.46L515.00 287.50L516.67 286.20L518.33 289.96L520.00 291.90L521.67 291.98L523.33 291.42L525.00 291.90L525.60 287.50L527.50 291.25L529.20 290.93L530.90 287.02L532.60 287.39L534.30 291.93L536.00 291.25L537.00 288.75L538.50 291.70L540.00 289.40L541.67 289.59L543.33 289.44L545.00 285.53L546.67 289.17L548.33 288.34L550.00 289.40L550.50 293.10L552.25 291.93L554.00 294.16L555.75 292.38L557.50 293.10L560.00 290.60L561.67 291.25L563.33 292.62L565.00 292.50L566.67 291.94L568.33 291.22L570.00 292.88L571.67 290.92L573.33 292.59L575.00 291.90L576.00 288.10L577.50 293.10L579.00 293.68L580.50 292.44L582.00 296.24L583.50 294.12L585.00 295.90L586.50 294.10L588.00 292.61L589.50 294.05L591.00 293.12L592.50 293.10L593.75 288.75L595.00 291.25L596.50 292.22L598.00 290.54L599.50 292.25L601.00 291.25L603.00 286.31L605.00 281.90L606.67 282.01L608.33 283.71L610.00 283.10L611.67 283.55L613.33 282.30L615.00 282.00L616.67 278.04L618.33 282.27L620.00 283.10L621.50 281.11L623.00 281.96L624.50 284.13L626.00 279.96L627.50 283.10L630.00 276.25L631.67 273.12L633.33 275.21L635.00 276.25L636.88 278.10L638.75 280.60L640.25 281.37L641.75 279.56L643.25 281.59L644.75 279.66L646.25 280.60L648.12 273.22L650.00 275.00L651.67 275.95L653.33 275.31L655.00 276.90L656.67 275.63L658.33 272.70L660.00 271.25L661.75 269.60L663.50 269.73L665.25 269.43L667.00 270.36L668.75 268.75L670.42 271.04L672.08 270.52L673.75 273.10L675.31 272.95L676.88 272.73L678.44 273.19L680.00 273.10L681.67 272.94L683.33 271.80L685.00 270.00L686.50 268.55L688.00 270.13L689.50 268.06L691.00 268.98L692.50 268.75L694.00 269.24L695.50 270.88L697.00 271.93L698.50 273.23L700.00 275.00L701.50 276.23L703.00 275.56L704.50 276.24L706.00 278.47L707.50 278.75L709.00 279.56L710.50 279.51L712.00 281.19L713.50 279.08L715.00 281.25L716.67 280.66L718.33 279.63L720.00 280.00L722.50 277.50L724.17 276.98L725.83 274.94L727.50 275.00L729.17 275.45L730.83 274.66L732.50 275.02L734.17 274.96L735.83 274.87L737.50 275.00L738.00 279.00L739.00 276.25L740.56 276.39L742.11 276.06L743.67 276.35L745.22 276.26L746.78 276.43L748.33 276.33L749.89 276.59L751.44 276.32L753.00 276.25L755.00 272.50L756.67 270.64L758.33 268.99L760.00 267.50L762.50 271.25L764.12 271.61L765.75 271.36L767.38 271.00L769.00 271.11L770.62 271.09L772.25 271.55L773.88 271.53L775.50 270.90L777.12 271.20L778.75 271.25H780.00V274.00H788.00V278.00H795.00V280.00H810.00V281.00H828.00V280.00H834.00V281.00H839.00V284.00H843.00V279.00H846.00V283.00H850.00V284.00H854.00V286.00H858.00V288.00H866.00V290.00H870.00V291.00H877.00V294.00H887.00V296.00H895.00V297.00H904.00V300.00H915.00V302.00H932.50" stroke="#000000"/>
<path d="M121.00 339.50H137.00V337.50H161.00V339.50H172.00V337.50H188.00V340.50H197.00V343.50H201.00V340.50H212.00V340.50H218.00V337.50H275.00V338.50H287.00V343.50H309.00V341.50H321.00V338.50H334.00V336.50H350.00V337.50H358.00V339.50H384.00V342.50H415.00V340.50H424.00V338.50L456.50 338.10L458.75 327.50L462.50 332.50L471.25 340.00L477.50 340.60H495.00V337.50H509.00V335.50H520.00V334.50H554.00V336.50H558.00V338.50H566.00V336.50H580.00V334.50H620.00V332.50H634.00V336.50H642.00V338.50H661.00V334.50H678.00V333.50H705.00V336.50H715.00V338.50H725.00V336.50H742.00V334.50H759.00V332.50H784.00V335.50H792.00V338.50H808.00V336.50H820.00V334.50H827.00V333.50H835.00V334.50H844.00V332.50H855.00V336.50H864.00V338.50H881.00V336.50H898.00V334.50H914.00V333.50H932.50" stroke="#9a9a9a" stroke-width="1"/>
</g>
<g clip-path="url(#cP)" fill="none">
<path d="M120.50 580.83L122.30 575.88L123.44 576.29L124.58 578.62L125.72 577.04L126.86 576.15L128.00 576.98L129.14 576.86L130.28 576.85L131.42 575.73L132.56 574.17L133.70 573.04L134.84 575.33L135.98 574.43L137.12 573.34L138.26 573.78L139.40 573.67L140.55 571.46L141.69 573.40L142.84 571.97L143.98 569.92L145.13 570.06L146.28 572.69L147.42 569.17L148.57 570.51L149.72 570.07L150.86 570.94L152.01 569.02L153.15 567.93L154.30 568.29L155.49 566.60L156.68 568.82L157.87 564.25L159.06 565.72L160.24 566.12L161.43 563.81L162.62 564.95L163.81 563.47L165.00 563.85L166.16 560.71L167.33 561.97L168.49 560.54L169.65 559.37L170.82 560.01L171.98 557.88L173.15 557.67L174.31 554.79L175.47 553.26L176.64 553.24L177.80 552.02L178.92 551.59L180.03 552.96L181.15 551.24L182.27 550.72L183.39 553.50L184.50 549.34L185.62 551.85L186.74 550.99L187.86 550.79L188.97 545.32L190.09 549.38L191.21 546.90L192.33 547.03L193.44 547.08L194.56 548.83L195.68 545.66L196.80 546.96L197.91 546.81L199.03 546.89L200.15 544.27L201.27 545.16L202.38 544.44L203.50 544.51L204.63 543.04L205.76 545.78L206.89 545.10L208.02 542.35L209.15 543.44L210.28 541.53L211.41 543.31L212.54 541.55L213.66 541.79L214.79 542.50L215.92 541.05L217.05 541.51L218.18 544.26L219.31 540.78L220.44 538.82L221.57 540.82L222.70 541.47L223.85 539.51L225.01 540.14L226.16 538.38L227.32 538.34L228.47 536.85L229.62 536.78L230.78 535.79L231.93 537.97L233.08 536.78L234.24 534.48L235.39 535.01L236.55 537.27L237.70 535.87L238.84 533.50L239.98 532.69L241.12 532.66L242.26 531.27L243.40 530.62L244.54 529.79L245.68 527.61L246.82 527.83L247.96 525.77L249.10 524.81L250.24 527.43L251.38 524.64L252.52 525.52L253.66 522.79L254.80 522.70L256.01 522.42L257.23 522.02L258.44 523.29L259.66 521.44L260.87 523.07L262.09 521.47L263.30 521.41L264.49 522.40L265.68 520.37L266.87 524.04L268.06 520.83L269.24 525.54L270.43 523.20L271.62 524.74L272.81 525.68L274.00 526.93L275.16 524.44L276.33 524.63L277.49 523.82L278.65 522.00L279.82 521.37L280.98 519.24L282.15 514.76L283.31 517.14L284.47 516.89L285.64 516.73L286.80 513.70L287.96 515.07L289.13 512.75L290.29 512.37L291.45 512.36L292.62 513.36L293.78 513.08L294.95 514.03L296.11 512.04L297.27 513.26L298.44 512.87L299.60 511.16L300.79 511.73L301.98 510.12L303.17 508.96L304.36 508.86L305.54 508.69L306.73 504.67L307.92 505.32L309.11 505.86L310.30 501.96L311.44 504.46L312.58 503.12L313.72 503.75L314.86 502.69L316.00 502.98L317.14 502.27L318.28 501.66L319.42 499.28L320.56 500.54L321.70 498.32L322.84 499.96L323.98 500.43L325.12 499.19L326.26 498.03L327.40 498.76L328.53 496.61L329.65 494.91L330.78 494.27L331.91 494.36L333.03 493.90L334.16 494.33L335.28 492.58L336.41 492.96L337.54 490.55L338.66 490.66L339.79 490.82L340.92 490.37L342.04 491.05L343.17 487.30L344.29 488.57L345.42 486.21L346.55 486.40L347.67 483.94L348.80 486.02L350.01 484.24L351.23 486.56L352.44 483.20L353.66 478.64L354.87 479.79L356.09 476.19L357.30 475.51L358.44 476.27L359.58 476.53L360.72 472.61L361.86 471.91L363.00 472.21L364.14 473.47L365.28 471.92L366.42 468.72L367.56 471.51L368.70 470.61L369.84 468.19L370.98 468.20L372.12 468.48L373.26 466.98L374.40 466.08L375.54 467.68L376.68 468.96L377.82 466.32L378.96 465.79L380.10 464.43L381.24 462.10L382.38 462.65L383.52 461.06L384.66 460.66L385.80 459.07L386.94 459.42L388.08 456.82L389.22 455.44L390.36 454.82L391.50 454.57L392.66 455.09L393.83 452.33L394.99 451.69L396.15 448.97L397.32 451.16L398.48 447.42L399.65 446.29L400.81 445.92L401.97 446.45L403.14 442.79L404.30 442.88L405.46 442.90L406.63 443.73L407.79 441.58L408.95 440.41L410.12 441.07L411.28 442.99L412.45 440.42L413.61 441.59L414.77 442.45L415.94 441.73L417.10 439.12L418.23 441.21L419.35 442.22L420.48 442.48L421.61 441.48L422.73 440.80L423.86 445.55L424.98 443.64L426.11 443.72L427.24 441.34L428.36 442.26L429.49 442.50L430.62 441.33L431.74 443.24L432.87 442.23L433.99 445.10L435.12 443.44L436.25 443.90L437.37 442.91L438.50 446.53L439.63 444.69L440.75 442.63L441.88 443.28L443.01 442.66L444.13 443.22L445.26 445.47L446.38 442.79L447.51 444.06L448.64 442.38L449.76 440.65L450.89 441.33L452.02 442.88L453.14 441.91L454.27 442.23L455.39 442.78L456.52 440.93L457.65 443.05L458.77 443.20L459.90 441.38L461.06 443.47L462.23 442.17L463.39 444.00L464.55 442.34L465.72 443.46L466.88 445.25L468.05 445.67L469.21 443.16L470.37 446.98L471.54 444.67L472.70 446.50L473.83 448.46L474.95 445.55L476.08 445.98L477.21 446.98L478.33 445.53L479.46 446.28L480.58 447.50L481.71 447.88L482.84 450.69L483.96 448.47L485.09 449.51L486.22 449.30L487.34 451.01L488.47 451.15L489.59 451.18L490.72 451.35L491.85 450.48L492.97 450.76L494.10 452.14L495.26 454.30L496.43 455.34L497.59 455.08L498.75 454.46L499.92 456.21L501.08 457.57L502.25 457.19L503.41 457.62L504.57 459.01L505.74 458.37L506.90 462.38L508.09 460.88L509.28 459.52L510.47 459.22L511.66 460.37L512.84 461.11L514.03 460.27L515.22 459.67L516.41 460.19L517.60 459.65L518.88 458.64L520.16 456.87L521.44 457.15L522.72 456.46L524.00 459.60L525.16 457.98L526.33 460.21L527.49 460.23L528.65 461.08L529.82 460.82L530.98 465.00L532.15 465.31L533.31 465.30L534.47 467.03L535.64 465.74L536.80 466.84L537.96 467.96L539.13 465.93L540.29 469.86L541.45 467.44L542.62 469.55L543.78 468.13L544.95 470.02L546.11 470.78L547.27 468.22L548.44 471.19L549.60 473.33L550.79 470.56L551.98 472.62L553.17 471.88L554.36 472.51L555.54 473.86L556.73 473.33L557.92 474.01L559.11 475.96L560.30 474.48L561.45 475.85L562.61 476.74L563.76 478.46L564.92 476.70L566.07 479.04L567.22 477.50L568.38 476.36L569.53 479.66L570.68 478.12L571.84 479.81L572.99 479.76L574.15 480.24L575.30 477.69L576.42 478.73L577.54 477.18L578.66 478.55L579.78 477.18L580.91 479.94L582.03 473.25L583.15 478.37L584.27 472.95L585.39 475.01L586.51 476.04L587.63 476.08L588.75 477.10L589.87 474.56L590.99 473.27L592.12 472.77L593.24 472.70L594.36 474.86L595.48 472.48L596.60 473.70L597.77 471.92L598.95 470.69L600.12 475.18L601.29 472.43L602.46 472.83L603.64 476.12L604.81 476.66L605.98 475.64L607.15 473.72L608.33 477.08L609.50 477.52L610.62 475.19L611.74 477.61L612.86 477.50L613.98 475.31L615.11 474.60L616.23 477.02L617.35 476.63L618.47 474.21L619.59 474.19L620.71 474.52L621.83 473.78L622.95 474.74L624.07 473.46L625.19 476.28L626.32 474.00L627.44 474.08L628.56 473.07L629.68 474.17L630.80 477.48L631.93 474.94L633.05 475.05L634.18 476.03L635.31 474.47L636.43 474.68L637.56 475.42L638.68 475.09L639.81 476.61L640.94 477.00L642.06 475.75L643.19 477.31L644.32 475.16L645.44 474.17L646.57 478.33L647.69 476.62L648.82 474.00L649.95 472.51L651.07 476.67L652.20 474.98L653.34 479.20L654.48 476.59L655.62 473.97L656.76 473.29L657.90 475.77L659.04 473.73L660.18 473.86L661.32 474.20L662.46 475.08L663.60 472.63L664.74 473.57L665.88 470.76L667.02 472.13L668.16 471.61L669.30 470.17L670.44 470.69L671.58 470.35L672.72 470.92L673.86 470.88L675.00 469.69L676.14 471.06L677.28 472.40L678.42 469.55L679.56 470.52L680.70 470.95L681.84 471.82L682.98 471.02L684.12 471.40L685.26 470.06L686.40 471.40L687.54 467.89L688.68 470.76L689.82 471.33L690.96 470.74L692.10 470.30L693.24 470.02L694.38 471.68L695.52 469.42L696.66 470.80L697.80 470.61L698.94 470.86L700.08 470.90L701.22 471.35L702.36 469.17L703.50 471.64L704.64 469.11L705.78 471.36L706.92 469.33L708.06 468.93L709.20 468.58L710.34 468.70L711.48 469.98L712.62 472.75L713.76 468.53L714.90 470.62L716.04 470.60L717.18 468.77L718.32 468.25L719.46 471.33L720.60 468.29L721.81 471.49L723.03 469.68L724.24 469.55L725.46 470.26L726.67 471.85L727.89 472.47L729.10 472.51L730.24 474.44L731.38 476.77L732.52 476.79L733.66 473.71L734.80 477.49L735.94 474.55L737.08 476.16L738.22 474.95L739.36 477.71L740.50 479.19L741.64 476.96L742.78 478.91L743.92 479.94L745.06 477.83L746.20 480.71L747.34 478.34L748.48 481.06L749.62 479.34L750.76 481.44L751.90 479.90L753.04 480.10L754.18 481.81L755.32 482.54L756.46 481.18L757.60 480.10L758.74 479.91L759.88 480.52L761.02 481.79L762.16 483.53L763.30 481.33L764.44 480.68L765.58 483.77L766.72 479.20L767.86 482.67L769.00 482.05L770.14 483.35L771.28 484.31L772.42 482.05L773.56 483.12L774.70 483.78L775.84 483.05L776.98 483.17L778.12 481.78L779.26 481.56L780.40 484.05L781.56 484.11L782.73 483.52L783.89 484.72L785.05 485.82L786.22 485.25L787.38 484.00L788.55 486.09L789.71 485.97L790.87 487.67L792.04 485.30L793.20 485.69L794.37 488.12L795.55 487.02L796.72 487.09L797.89 484.36L799.06 486.08L800.24 484.86L801.41 485.50L802.58 486.05L803.75 485.56L804.93 485.10L806.10 483.71L807.23 485.33L808.37 484.86L809.50 484.78L810.63 485.77L811.77 487.18L812.90 487.65L814.03 485.13L815.17 482.70L816.30 486.61L817.43 485.72L818.57 485.87L819.70 486.65L820.83 488.99L821.97 487.95L823.10 489.96L824.24 487.08L825.38 488.09L826.52 489.31L827.66 489.32L828.80 488.94L829.94 488.98L831.08 488.01L832.22 488.94L833.36 492.80L834.50 486.73L835.64 488.72L836.78 489.15L837.92 492.04L839.06 492.04L840.20 489.95L841.32 491.93L842.43 488.77L843.55 490.97L844.67 489.28L845.79 489.48L846.90 491.68L848.02 492.48L849.14 491.95L850.26 490.22L851.37 491.36L852.49 491.44L853.61 489.97L854.73 490.31L855.84 492.31L856.96 491.37L858.08 490.82L859.20 491.50L860.31 490.65L861.43 492.06L862.55 492.55L863.67 493.28L864.78 491.22L865.90 492.12L867.06 492.47L868.23 491.17L869.39 492.60L870.55 491.98L871.72 490.56L872.88 492.73L874.05 491.92L875.21 492.15L876.37 491.10L877.54 490.41L878.70 492.54L879.86 491.94L881.03 492.76L882.19 493.57L883.35 494.35L884.52 491.73L885.68 493.90L886.85 493.24L888.01 495.66L889.17 493.06L890.34 493.87L891.50 495.80L892.66 494.16L893.83 497.98L894.99 496.20L896.15 497.41L897.32 498.83L898.48 500.29L899.65 498.59L900.81 501.37L901.97 501.42L903.14 498.02L904.30 501.22L905.47 502.38L906.65 502.94L907.82 503.66L908.99 505.55L910.16 506.39L911.34 504.09L912.51 504.87L913.68 503.63L914.85 506.07L916.03 505.15L917.20 507.28L918.36 509.42L919.53 507.73L920.69 506.69L921.85 510.88L923.02 508.10L924.18 506.56L925.35 509.49L926.51 507.48L927.67 508.06L928.84 508.25L930.00 509.91L931.25 510.69L932.50 510.50" stroke="#999" stroke-width="1.2"/>
</g>
<path d="M120.5 45.50h9M932.5 45.50h-9M120.5 76.50h9M932.5 76.50h-9M120.5 107.50h9M932.5 107.50h-9M120.5 137.50h9M932.5 137.50h-9M120.5 168.50h9M932.5 168.50h-9M120.5 199.50h9M932.5 199.50h-9M120.5 230.50h9M932.5 230.50h-9M120.5 60.50h4.5M932.5 60.50h-4.5M120.5 91.50h4.5M932.5 91.50h-4.5M120.5 122.50h4.5M932.5 122.50h-4.5M120.5 153.50h4.5M932.5 153.50h-4.5M120.5 184.50h4.5M932.5 184.50h-4.5M120.5 215.50h4.5M932.5 215.50h-4.5M120.50 45.5v9M120.50 230.5v-9M154.50 45.5v9M154.50 230.5v-9M188.50 45.5v9M188.50 230.5v-9M222.50 45.5v9M222.50 230.5v-9M255.50 45.5v9M255.50 230.5v-9M289.50 45.5v9M289.50 230.5v-9M323.50 45.5v9M323.50 230.5v-9M357.50 45.5v9M357.50 230.5v-9M391.50 45.5v9M391.50 230.5v-9M425.50 45.5v9M425.50 230.5v-9M458.50 45.5v9M458.50 230.5v-9M492.50 45.5v9M492.50 230.5v-9M526.50 45.5v9M526.50 230.5v-9M560.50 45.5v9M560.50 230.5v-9M594.50 45.5v9M594.50 230.5v-9M628.50 45.5v9M628.50 230.5v-9M661.50 45.5v9M661.50 230.5v-9M695.50 45.5v9M695.50 230.5v-9M729.50 45.5v9M729.50 230.5v-9M763.50 45.5v9M763.50 230.5v-9M797.50 45.5v9M797.50 230.5v-9M831.50 45.5v9M831.50 230.5v-9M864.50 45.5v9M864.50 230.5v-9M898.50 45.5v9M898.50 230.5v-9M932.50 45.5v9M932.50 230.5v-9M137.50 45.5v4.5M137.50 230.5v-4.5M171.50 45.5v4.5M171.50 230.5v-4.5M205.50 45.5v4.5M205.50 230.5v-4.5M238.50 45.5v4.5M238.50 230.5v-4.5M272.50 45.5v4.5M272.50 230.5v-4.5M306.50 45.5v4.5M306.50 230.5v-4.5M340.50 45.5v4.5M340.50 230.5v-4.5M374.50 45.5v4.5M374.50 230.5v-4.5M408.50 45.5v4.5M408.50 230.5v-4.5M441.50 45.5v4.5M441.50 230.5v-4.5M475.50 45.5v4.5M475.50 230.5v-4.5M509.50 45.5v4.5M509.50 230.5v-4.5M543.50 45.5v4.5M543.50 230.5v-4.5M577.50 45.5v4.5M577.50 230.5v-4.5M611.50 45.5v4.5M611.50 230.5v-4.5M644.50 45.5v4.5M644.50 230.5v-4.5M678.50 45.5v4.5M678.50 230.5v-4.5M712.50 45.5v4.5M712.50 230.5v-4.5M746.50 45.5v4.5M746.50 230.5v-4.5M780.50 45.5v4.5M780.50 230.5v-4.5M814.50 45.5v4.5M814.50 230.5v-4.5M847.50 45.5v4.5M847.50 230.5v-4.5M881.50 45.5v4.5M881.50 230.5v-4.5M915.50 45.5v4.5M915.50 230.5v-4.5M120.5 230.50h9M932.5 230.50h-9M120.5 250.50h9M932.5 250.50h-9M120.5 271.50h9M932.5 271.50h-9M120.5 291.50h9M932.5 291.50h-9M120.5 312.50h9M932.5 312.50h-9M120.5 332.50h9M932.5 332.50h-9M120.5 353.50h9M932.5 353.50h-9M120.5 373.50h9M932.5 373.50h-9M120.5 394.50h9M932.5 394.50h-9M120.5 414.50h9M932.5 414.50h-9M120.5 240.50h4.5M932.5 240.50h-4.5M120.5 261.50h4.5M932.5 261.50h-4.5M120.5 281.50h4.5M932.5 281.50h-4.5M120.5 302.50h4.5M932.5 302.50h-4.5M120.5 322.50h4.5M932.5 322.50h-4.5M120.5 342.50h4.5M932.5 342.50h-4.5M120.5 363.50h4.5M932.5 363.50h-4.5M120.5 383.50h4.5M932.5 383.50h-4.5M120.5 404.50h4.5M932.5 404.50h-4.5M120.50 230.5v9M120.50 414.5v-9M154.50 230.5v9M154.50 414.5v-9M188.50 230.5v9M188.50 414.5v-9M222.50 230.5v9M222.50 414.5v-9M255.50 230.5v9M255.50 414.5v-9M289.50 230.5v9M289.50 414.5v-9M323.50 230.5v9M323.50 414.5v-9M357.50 230.5v9M357.50 414.5v-9M391.50 230.5v9M391.50 414.5v-9M425.50 230.5v9M425.50 414.5v-9M458.50 230.5v9M458.50 414.5v-9M492.50 230.5v9M492.50 414.5v-9M526.50 230.5v9M526.50 414.5v-9M560.50 230.5v9M560.50 414.5v-9M594.50 230.5v9M594.50 414.5v-9M628.50 230.5v9M628.50 414.5v-9M661.50 230.5v9M661.50 414.5v-9M695.50 230.5v9M695.50 414.5v-9M729.50 230.5v9M729.50 414.5v-9M763.50 230.5v9M763.50 414.5v-9M797.50 230.5v9M797.50 414.5v-9M831.50 230.5v9M831.50 414.5v-9M864.50 230.5v9M864.50 414.5v-9M898.50 230.5v9M898.50 414.5v-9M932.50 230.5v9M932.50 414.5v-9M137.50 230.5v4.5M137.50 414.5v-4.5M171.50 230.5v4.5M171.50 414.5v-4.5M205.50 230.5v4.5M205.50 414.5v-4.5M238.50 230.5v4.5M238.50 414.5v-4.5M272.50 230.5v4.5M272.50 414.5v-4.5M306.50 230.5v4.5M306.50 414.5v-4.5M340.50 230.5v4.5M340.50 414.5v-4.5M374.50 230.5v4.5M374.50 414.5v-4.5M408.50 230.5v4.5M408.50 414.5v-4.5M441.50 230.5v4.5M441.50 414.5v-4.5M475.50 230.5v4.5M475.50 414.5v-4.5M509.50 230.5v4.5M509.50 414.5v-4.5M543.50 230.5v4.5M543.50 414.5v-4.5M577.50 230.5v4.5M577.50 414.5v-4.5M611.50 230.5v4.5M611.50 414.5v-4.5M644.50 230.5v4.5M644.50 414.5v-4.5M678.50 230.5v4.5M678.50 414.5v-4.5M712.50 230.5v4.5M712.50 414.5v-4.5M746.50 230.5v4.5M746.50 414.5v-4.5M780.50 230.5v4.5M780.50 414.5v-4.5M814.50 230.5v4.5M814.50 414.5v-4.5M847.50 230.5v4.5M847.50 414.5v-4.5M881.50 230.5v4.5M881.50 414.5v-4.5M915.50 230.5v4.5M915.50 414.5v-4.5M120.5 414.50h9M932.5 414.50h-9M120.5 445.50h9M932.5 445.50h-9M120.5 476.50h9M932.5 476.50h-9M120.5 507.50h9M932.5 507.50h-9M120.5 537.50h9M932.5 537.50h-9M120.5 568.50h9M932.5 568.50h-9M120.5 599.50h9M932.5 599.50h-9M120.5 429.50h4.5M932.5 429.50h-4.5M120.5 460.50h4.5M932.5 460.50h-4.5M120.5 491.50h4.5M932.5 491.50h-4.5M120.5 522.50h4.5M932.5 522.50h-4.5M120.5 553.50h4.5M932.5 553.50h-4.5M120.5 584.50h4.5M932.5 584.50h-4.5M120.50 414.5v9M120.50 599.5v-9M154.50 414.5v9M154.50 599.5v-9M188.50 414.5v9M188.50 599.5v-9M222.50 414.5v9M222.50 599.5v-9M255.50 414.5v9M255.50 599.5v-9M289.50 414.5v9M289.50 599.5v-9M323.50 414.5v9M323.50 599.5v-9M357.50 414.5v9M357.50 599.5v-9M391.50 414.5v9M391.50 599.5v-9M425.50 414.5v9M425.50 599.5v-9M458.50 414.5v9M458.50 599.5v-9M492.50 414.5v9M492.50 599.5v-9M526.50 414.5v9M526.50 599.5v-9M560.50 414.5v9M560.50 599.5v-9M594.50 414.5v9M594.50 599.5v-9M628.50 414.5v9M628.50 599.5v-9M661.50 414.5v9M661.50 599.5v-9M695.50 414.5v9M695.50 599.5v-9M729.50 414.5v9M729.50 599.5v-9M763.50 414.5v9M763.50 599.5v-9M797.50 414.5v9M797.50 599.5v-9M831.50 414.5v9M831.50 599.5v-9M864.50 414.5v9M864.50 599.5v-9M898.50 414.5v9M898.50 599.5v-9M932.50 414.5v9M932.50 599.5v-9M137.50 414.5v4.5M137.50 599.5v-4.5M171.50 414.5v4.5M171.50 599.5v-4.5M205.50 414.5v4.5M205.50 599.5v-4.5M238.50 414.5v4.5M238.50 599.5v-4.5M272.50 414.5v4.5M272.50 599.5v-4.5M306.50 414.5v4.5M306.50 599.5v-4.5M340.50 414.5v4.5M340.50 599.5v-4.5M374.50 414.5v4.5M374.50 599.5v-4.5M408.50 414.5v4.5M408.50 599.5v-4.5M441.50 414.5v4.5M441.50 599.5v-4.5M475.50 414.5v4.5M475.50 599.5v-4.5M509.50 414.5v4.5M509.50 599.5v-4.5M543.50 414.5v4.5M543.50 599.5v-4.5M577.50 414.5v4.5M577.50 599.5v-4.5M611.50 414.5v4.5M611.50 599.5v-4.5M644.50 414.5v4.5M644.50 599.5v-4.5M678.50 414.5v4.5M678.50 599.5v-4.5M712.50 414.5v4.5M712.50 599.5v-4.5M746.50 414.5v4.5M746.50 599.5v-4.5M780.50 414.5v4.5M780.50 599.5v-4.5M814.50 414.5v4.5M814.50 599.5v-4.5M847.50 414.5v4.5M847.50 599.5v-4.5M881.50 414.5v4.5M881.50 599.5v-4.5M915.50 414.5v4.5M915.50 599.5v-4.5" stroke="#000" stroke-width="1" fill="none"/>
<path d="M120.5 45.5H932.5V599.5H120.5Z M120.5 230.5H932.5 M120.5 414.5H932.5" stroke="#000" stroke-width="1.1" fill="none"/>
<g font-size="16" fill="#000"><text x="111.5" y="51.70" text-anchor="end">82.00</text><text x="111.5" y="82.70" text-anchor="end">80.00</text><text x="111.5" y="113.70" text-anchor="end">78.00</text><text x="111.5" y="143.70" text-anchor="end">76.00</text><text x="111.5" y="174.70" text-anchor="end">74.00</text><text x="111.5" y="205.70" text-anchor="end">72.00</text><text x="111.5" y="236.70" text-anchor="end">70.00</text><text x="111.5" y="236.70" text-anchor="end">90.00</text><text x="111.5" y="256.70" text-anchor="end">80.00</text><text x="111.5" y="277.70" text-anchor="end">70.00</text><text x="111.5" y="297.70" text-anchor="end">60.00</text><text x="111.5" y="318.70" text-anchor="end">50.00</text><text x="111.5" y="338.70" text-anchor="end">40.00</text><text x="111.5" y="359.70" text-anchor="end">30.00</text><text x="111.5" y="379.70" text-anchor="end">20.00</text><text x="111.5" y="400.70" text-anchor="end">10.00</text><text x="111.5" y="420.70" text-anchor="end">0.00</text><text x="111.5" y="420.70" text-anchor="end">30.35</text><text x="111.5" y="451.70" text-anchor="end">30.30</text><text x="111.5" y="482.70" text-anchor="end">30.25</text><text x="111.5" y="513.70" text-anchor="end">30.20</text><text x="111.5" y="543.70" text-anchor="end">30.15</text><text x="111.5" y="574.70" text-anchor="end">30.10</text><text x="111.5" y="605.70" text-anchor="end">30.05</text><text x="120.50" y="627.7" text-anchor="middle">00</text><text x="154.50" y="627.7" text-anchor="middle">01</text><text x="188.50" y="627.7" text-anchor="middle">02</text><text x="222.50" y="627.7" text-anchor="middle">03</text><text x="255.50" y="627.7" text-anchor="middle">04</text><text x="289.50" y="627.7" text-anchor="middle">05</text><text x="323.50" y="627.7" text-anchor="middle">06</text><text x="357.50" y="627.7" text-anchor="middle">07</text><text x="391.50" y="627.7" text-anchor="middle">08</text><text x="425.50" y="627.7" text-anchor="middle">09</text><text x="458.50" y="627.7" text-anchor="middle">10</text><text x="492.50" y="627.7" text-anchor="middle">11</text><text x="526.50" y="627.7" text-anchor="middle">12</text><text x="560.50" y="627.7" text-anchor="middle">13</text><text x="594.50" y="627.7" text-anchor="middle">14</text><text x="628.50" y="627.7" text-anchor="middle">15</text><text x="661.50" y="627.7" text-anchor="middle">16</text><text x="695.50" y="627.7" text-anchor="middle">17</text><text x="729.50" y="627.7" text-anchor="middle">18</text><text x="763.50" y="627.7" text-anchor="middle">19</text><text x="797.50" y="627.7" text-anchor="middle">20</text><text x="831.50" y="627.7" text-anchor="middle">21</text><text x="864.50" y="627.7" text-anchor="middle">22</text><text x="898.50" y="627.7" text-anchor="middle">23</text><text x="932.50" y="627.7" text-anchor="middle">00</text></g>
<text transform="translate(34.7,137.75) rotate(-90)" text-anchor="middle" font-size="16" textLength="95" lengthAdjust="spacingAndGlyphs">temperature</text>
<text transform="translate(55.5,137.50) rotate(-90)" text-anchor="middle" font-size="16" textLength="51" lengthAdjust="spacingAndGlyphs">(deg F)</text>
<text transform="translate(34.7,320.80) rotate(-90)" text-anchor="middle" font-size="16" textLength="126" lengthAdjust="spacingAndGlyphs">relative humidity</text>
<text transform="translate(55.5,321.75) rotate(-90)" text-anchor="middle" font-size="16" textLength="34.5" lengthAdjust="spacingAndGlyphs">(pct)</text>
<text transform="translate(34.7,506.90) rotate(-90)" text-anchor="middle" font-size="16" textLength="155" lengthAdjust="spacingAndGlyphs">barometric pressure</text>
<text transform="translate(55.5,506.90) rotate(-90)" text-anchor="middle" font-size="16" textLength="49.5" lengthAdjust="spacingAndGlyphs">(in Hg)</text>
<text x="526.35" y="659.8" text-anchor="middle" font-size="16" textLength="64.5" lengthAdjust="spacingAndGlyphs">time (hr)</text>
<text x="526.7" y="18.8" text-anchor="middle" font-size="16" textLength="416" lengthAdjust="spacingAndGlyphs">Science Center L Wing environment status (2025-12-22)</text>
<text x="261.1" y="684.25" text-anchor="end" font-size="16" textLength="60" lengthAdjust="spacingAndGlyphs">enviro-1</text><path d="M270.3 678.50h44.5" stroke="#9400D3" stroke-width="2"/><text x="261.1" y="705.25" text-anchor="end" font-size="16" textLength="60" lengthAdjust="spacingAndGlyphs">enviro-2</text><path d="M270.3 699.50h44.5" stroke="#009E73" stroke-width="2"/><text x="396.40000000000003" y="684.25" text-anchor="end" font-size="16" textLength="60" lengthAdjust="spacingAndGlyphs">enviro-3</text><path d="M405.6 678.50h44.5" stroke="#56B4E9" stroke-width="2"/><text x="396.40000000000003" y="705.25" text-anchor="end" font-size="16" textLength="60" lengthAdjust="spacingAndGlyphs">enviro-4</text><path d="M405.6 699.50h44.5" stroke="#E69F00" stroke-width="2"/><text x="531.4" y="684.25" text-anchor="end" font-size="16" textLength="60" lengthAdjust="spacingAndGlyphs">enviro-5</text><path d="M540.6 678.50h44.5" stroke="#F0E442" stroke-width="2"/><text x="531.4" y="705.25" text-anchor="end" font-size="16" textLength="60" lengthAdjust="spacingAndGlyphs">enviro-6</text><path d="M540.6 699.50h44.5" stroke="#0072B2" stroke-width="2"/><text x="666.4" y="684.25" text-anchor="end" font-size="16" textLength="60" lengthAdjust="spacingAndGlyphs">enviro-7</text><path d="M675.6 678.50h44.5" stroke="#E51E10" stroke-width="2"/><text x="666.4" y="705.25" text-anchor="end" font-size="16" textLength="60" lengthAdjust="spacingAndGlyphs">enviro-8</text><path d="M675.6 699.50h44.5" stroke="#000000" stroke-width="2"/><text x="801.4" y="684.25" text-anchor="end" font-size="16" textLength="50.5" lengthAdjust="spacingAndGlyphs">indoor</text><path d="M810.6 678.50h44.5" stroke="#a0a0a0" stroke-width="1"/>
</svg></body></html>
